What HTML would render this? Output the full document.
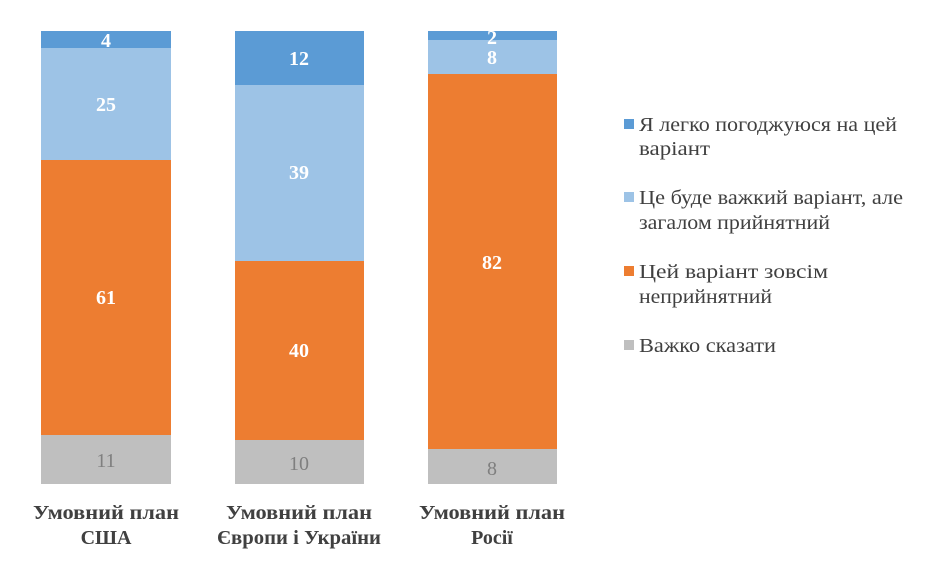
<!DOCTYPE html>
<html><head><meta charset="utf-8"><style>
html,body{margin:0;padding:0;background:#fff;width:945px;height:588px;overflow:hidden}
svg text{font-family:"Liberation Serif",serif}
</style></head><body>
<svg width="945" height="588" viewBox="0 0 945 588">
<rect x="41" y="31" width="130" height="17" fill="#5b9bd5"/>
<rect x="41" y="48" width="130" height="112" fill="#9dc3e6"/>
<rect x="41" y="160" width="130" height="275" fill="#ed7d31"/>
<rect x="41" y="435" width="130" height="49" fill="#bfbfbf"/>
<rect x="235" y="31" width="129" height="54" fill="#5b9bd5"/>
<rect x="235" y="85" width="129" height="176" fill="#9dc3e6"/>
<rect x="235" y="261" width="129" height="179" fill="#ed7d31"/>
<rect x="235" y="440" width="129" height="44" fill="#bfbfbf"/>
<rect x="428" y="31" width="129" height="9" fill="#5b9bd5"/>
<rect x="428" y="40" width="129" height="34" fill="#9dc3e6"/>
<rect x="428" y="74" width="129" height="375" fill="#ed7d31"/>
<rect x="428" y="449" width="129" height="35" fill="#bfbfbf"/>
<g font-size="20" font-weight="bold" fill="#fff" text-anchor="middle">
<text x="106" y="47">4</text>
<text x="106" y="111">25</text>
<text x="106" y="304">61</text>
<text x="299" y="65">12</text>
<text x="299" y="179">39</text>
<text x="299" y="357">40</text>
<text x="492" y="44">2</text>
<text x="492" y="64">8</text>
<text x="492" y="269">82</text>
</g>
<g font-size="20" fill="#7f7f7f" text-anchor="middle">
<text x="106" y="467">11</text>
<text x="299" y="470">10</text>
<text x="492" y="475">8</text>
</g>
<g font-size="20" font-weight="bold" fill="#404040" text-anchor="middle">
<text x="106" y="519" textLength="146" lengthAdjust="spacingAndGlyphs">Умовний план</text>
<text x="106" y="544">США</text>
<text x="299" y="519" textLength="146" lengthAdjust="spacingAndGlyphs">Умовний план</text>
<text x="299" y="544" textLength="164" lengthAdjust="spacingAndGlyphs">Європи і України</text>
<text x="492" y="519" textLength="146" lengthAdjust="spacingAndGlyphs">Умовний план</text>
<text x="492" y="544">Росії</text>
</g>
<rect x="624" y="119" width="10" height="10" fill="#5b9bd5"/>
<rect x="624" y="192" width="10" height="10" fill="#9dc3e6"/>
<rect x="624" y="266" width="10" height="10" fill="#ed7d31"/>
<rect x="624" y="340" width="10" height="10" fill="#bfbfbf"/>
<g font-size="20" fill="#404040" lengthAdjust="spacingAndGlyphs">
<text x="639" y="131" textLength="258" lengthAdjust="spacingAndGlyphs">Я легко погоджуюся на цей</text>
<text x="639" y="155" textLength="71" lengthAdjust="spacingAndGlyphs">варіант</text>
<text x="639" y="204" textLength="264" lengthAdjust="spacingAndGlyphs">Це буде важкий варіант, але</text>
<text x="639" y="229" textLength="191" lengthAdjust="spacingAndGlyphs">загалом прийнятний</text>
<text x="639" y="278" textLength="189" lengthAdjust="spacingAndGlyphs">Цей варіант зовсім</text>
<text x="639" y="303" textLength="133" lengthAdjust="spacingAndGlyphs">неприйнятний</text>
<text x="639" y="352" textLength="137" lengthAdjust="spacingAndGlyphs">Важко сказати</text>
</g>
</svg>
</body></html>
